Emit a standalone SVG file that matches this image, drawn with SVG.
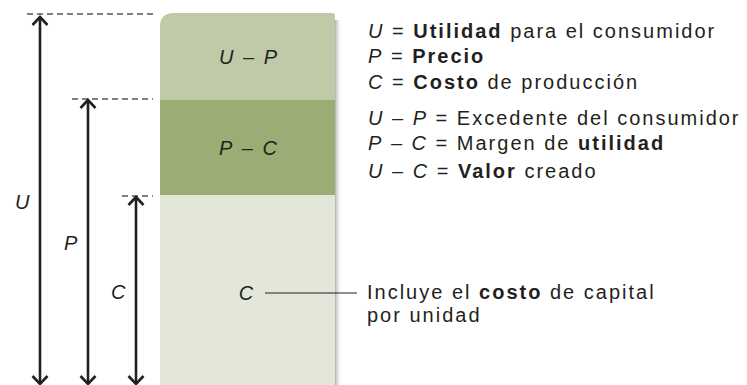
<svg xmlns="http://www.w3.org/2000/svg" width="747" height="385" viewBox="0 0 747 385">
<defs>
<linearGradient id="shadow" x1="0" y1="0" x2="1" y2="0">
<stop offset="0" stop-color="#9a9a9a" stop-opacity="0.8"/>
<stop offset="1" stop-color="#ffffff" stop-opacity="0"/>
</linearGradient>
<marker id="ah" viewBox="0 0 20 20" refX="18" refY="10" markerWidth="20" markerHeight="20" markerUnits="userSpaceOnUse" orient="auto-start-reverse">
<path d="M10,2.5 L18,10 L10,17.5" fill="none" stroke="#231f20" stroke-width="2.6"/>
</marker>
<style>
text{font-family:"Liberation Sans",Arial,sans-serif;font-size:20px;letter-spacing:2px;fill:#231f20}
.i{font-style:italic}
.b{font-weight:bold}
.dash{stroke:#555;stroke-width:1.3;stroke-dasharray:6 4;fill:none}
.arr{stroke:#231f20;stroke-width:2.6;fill:none;marker-start:url(#ah);marker-end:url(#ah)}
</style>
</defs>
<g id="bar">
<rect x="335" y="20" width="7" height="365" fill="url(#shadow)"/>
<path d="M160,385 V27 Q160,13 174,13 H332 Q335,13 335,16 V385 Z" fill="#e2e7da"/>
<path d="M160,100 V27 Q160,13 174,13 H332 Q335,13 335,16 V100 Z" fill="#bfcaa9"/>
<rect x="160" y="100" width="175" height="95" fill="#9bad75"/>
<text x="249" y="64" text-anchor="middle"><tspan class="i">U</tspan> – <tspan class="i">P</tspan></text>
<text x="249" y="155" text-anchor="middle"><tspan class="i">P</tspan> – <tspan class="i">C</tspan></text>
<text x="247" y="300" text-anchor="middle" class="i">C</text>
</g>
<g id="connectors">
<line class="dash" x1="27" y1="14" x2="153" y2="14"/>
<line class="dash" x1="72" y1="99" x2="153" y2="99"/>
<line class="dash" x1="122" y1="196" x2="153" y2="196"/>
<line class="arr" x1="40" y1="17" x2="40" y2="384"/>
<line class="arr" x1="88" y1="100" x2="88" y2="384"/>
<line class="arr" x1="136" y1="197" x2="136" y2="384"/>
<line x1="265" y1="293" x2="357" y2="293" stroke="#231f20" stroke-width="1.2"/>
</g>
<g id="labels">
<text x="15" y="209" class="i">U</text>
<text x="64" y="250" class="i">P</text>
<text x="111" y="299" class="i">C</text>
</g>
<g id="legend">
<text x="368" y="38"><tspan class="i">U</tspan> = <tspan class="b">Utilidad</tspan> para el consumidor</text>
<text x="368" y="63"><tspan class="i">P</tspan> = <tspan class="b">Precio</tspan></text>
<text x="368" y="89"><tspan class="i">C</tspan> = <tspan class="b">Costo</tspan> de producción</text>
<text x="368" y="125"><tspan class="i">U</tspan> – <tspan class="i">P</tspan> = Excedente del consumidor</text>
<text x="368" y="150"><tspan class="i">P</tspan> – <tspan class="i">C</tspan> = Margen de <tspan class="b">utilidad</tspan></text>
<text x="368" y="178"><tspan class="i">U</tspan> – <tspan class="i">C</tspan> = <tspan class="b">Valor</tspan> creado</text>
</g>
<g id="note">
<text x="367" y="299">Incluye el <tspan class="b">costo</tspan> de capital</text>
<text x="367" y="322">por unidad</text>
</g>
</svg>
